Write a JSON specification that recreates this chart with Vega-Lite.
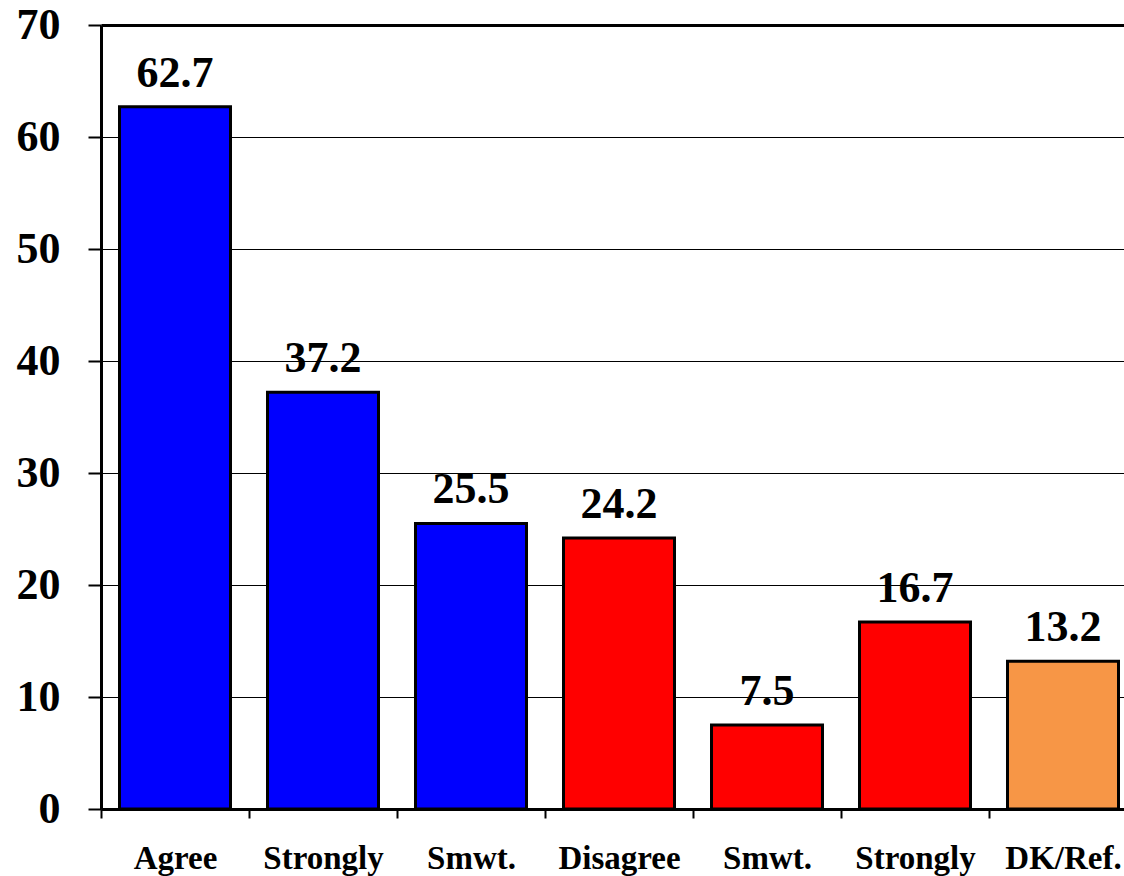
{
  "$schema": "https://vega.github.io/schema/vega-lite/v6.json",
  "width": 1024,
  "height": 784,
  "autosize": {"type": "none"},
  "padding": {"left": 101, "top": 25, "right": 0, "bottom": 67},
  "background": "white",
  "config": {
    "view": {"stroke": null},
    "font": "Liberation Serif"
  },
  "data": {
    "values": [
      {"key": "Agree|1", "value": 62.7, "group": "agree"},
      {"key": "Strongly|2", "value": 37.2, "group": "agree"},
      {"key": "Smwt.|3", "value": 25.5, "group": "agree"},
      {"key": "Disagree|4", "value": 24.2, "group": "disagree"},
      {"key": "Smwt.|5", "value": 7.5, "group": "disagree"},
      {"key": "Strongly|6", "value": 16.7, "group": "disagree"},
      {"key": "DK/Ref.|7", "value": 13.2, "group": "dk"}
    ]
  },
  "encoding": {
    "x": {
      "field": "key",
      "type": "nominal",
      "sort": null,
      "scale": {"range": [0, 1036], "paddingInner": 0.25, "paddingOuter": 0.125},
      "axis": {
        "title": null,
        "labelExpr": "split(datum.value, '|')[0]",
        "bandPosition": 0,
        "tickOffset": -18.5,
        "labelOffset": 18.5,
        "tickSize": 9,
        "tickWidth": 2,
        "tickColor": "black",
        "domainColor": "black",
        "domainWidth": 3,
        "labelFont": "Liberation Serif",
        "labelFontSize": 33,
        "labelFontWeight": "bold",
        "labelColor": "black",
        "labelPadding": 24,
        "labelAngle": 0,
        "labelBaseline": "top",
        "labelOverlap": false,
        "labelFlush": false,
        "labelBound": false
      }
    },
    "y": {
      "field": "value",
      "type": "quantitative",
      "scale": {"domain": [0, 70], "nice": false},
      "axis": {
        "title": null,
        "values": [0, 10, 20, 30, 40, 50, 60, 70],
        "tickSize": 13,
        "tickWidth": 2,
        "tickColor": "black",
        "domainColor": "black",
        "domainWidth": 3,
        "grid": true,
        "gridColor": "black",
        "gridWidth": {"condition": {"test": "datum.value === 70", "value": 3}, "value": 1},
        "labelFont": "Liberation Serif",
        "labelFontSize": 44,
        "labelFontWeight": "bold",
        "labelColor": "black",
        "labelPadding": 28,
        "labelFlush": false,
        "labelOverlap": false
      }
    }
  },
  "layer": [
    {
      "mark": {"type": "bar", "stroke": "black", "strokeWidth": 3},
      "encoding": {
        "color": {
          "field": "group",
          "type": "nominal",
          "scale": {"domain": ["agree", "disagree", "dk"], "range": ["#0000FF", "#FF0000", "#F79646"]},
          "legend": null
        }
      }
    },
    {
      "mark": {"type": "text", "dy": -20, "baseline": "alphabetic", "fontSize": 44, "fontWeight": "bold", "font": "Liberation Serif", "color": "black"},
      "encoding": {
        "text": {"field": "value", "type": "quantitative", "format": ".1f"}
      }
    }
  ]
}
